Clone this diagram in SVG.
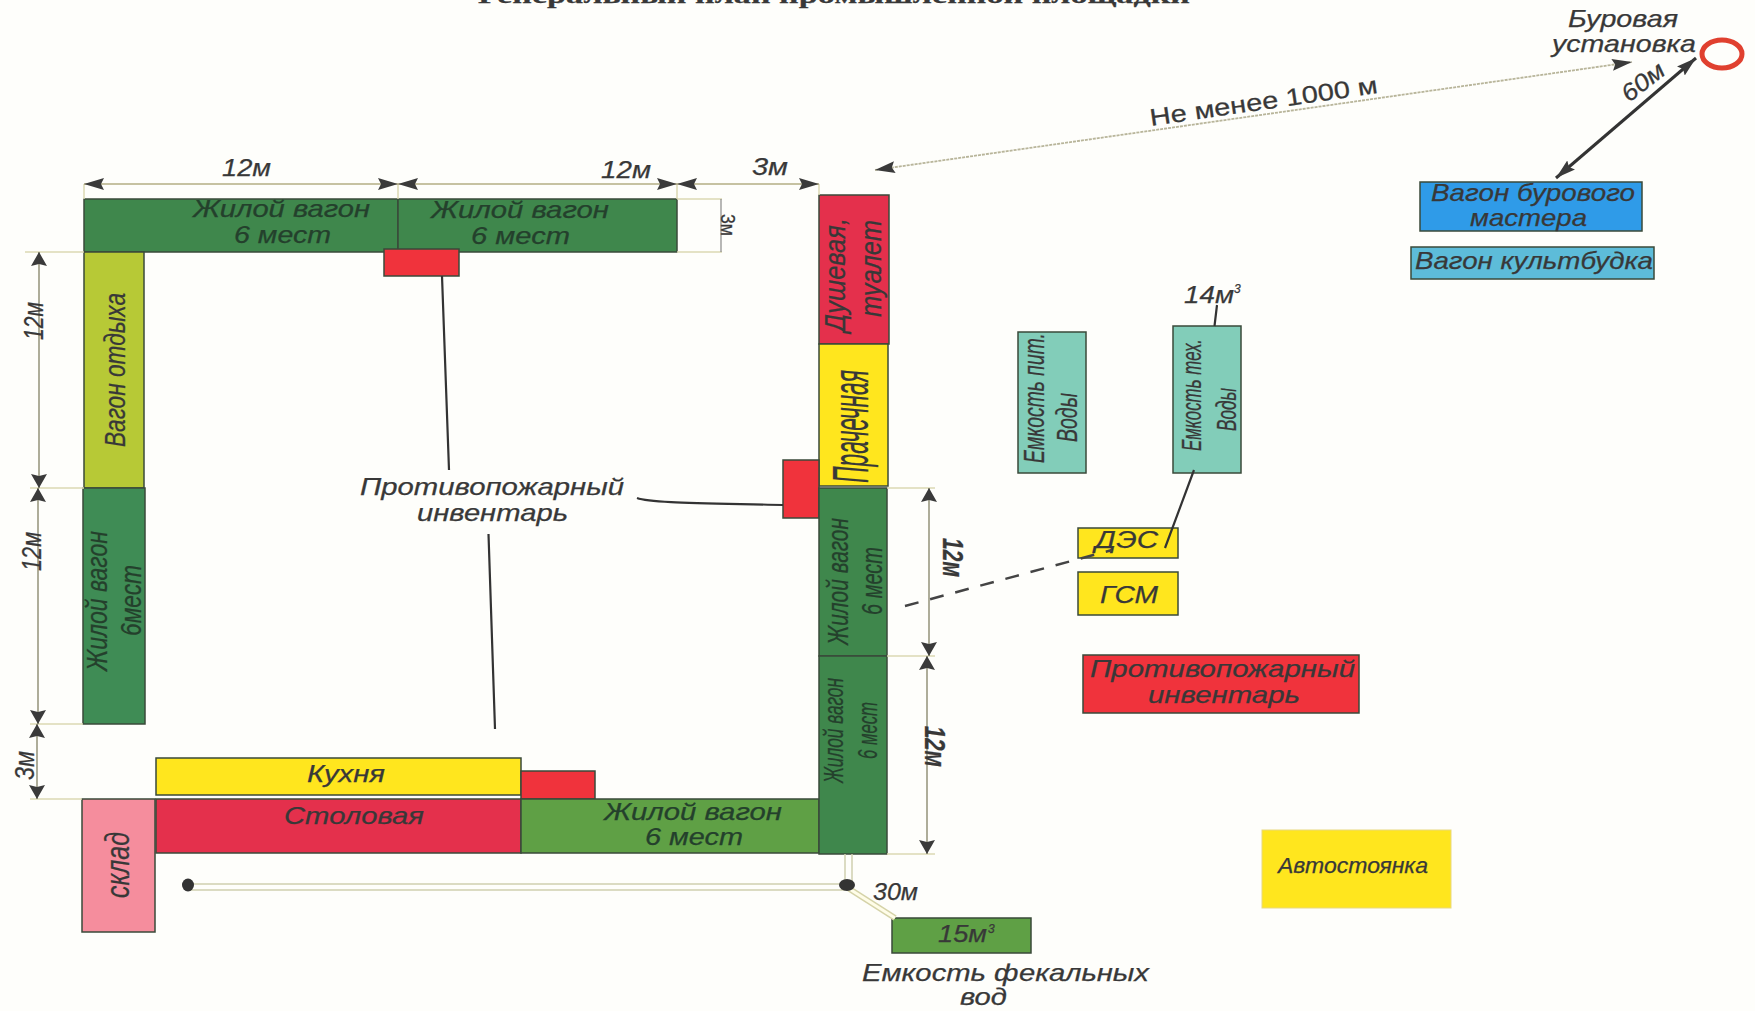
<svg xmlns="http://www.w3.org/2000/svg" width="1755" height="1011" viewBox="0 0 1755 1011">
<style>
text{font-family:"Liberation Sans",Arial,sans-serif;font-style:italic;fill:#383838;stroke:#383838;stroke-width:.25;font-size:24px}
.n rect{stroke:#3a4a3a;stroke-width:1.5}
.dg{fill:#3f874c}.lg{fill:#5fa045}.mg{fill:#3f8c55}.yg{fill:#b7c936}.r{fill:#f0333c}.cr{fill:#e4304c}.y{fill:#ffe61e}.p{fill:#f58d9d}.t{fill:#82cdb9}.b{fill:#2f9be8}.c{fill:#5dbcd9}
text.dk{fill:#24402c;stroke:#24402c}
.dim{stroke:#b3ae84;stroke-width:1.6;fill:none;marker-start:url(#a);marker-end:url(#a)}
.dv{stroke:#8c8a70;stroke-width:1.4;fill:none;marker-start:url(#v);marker-end:url(#v)}
.ext{stroke:#dcd9b4;stroke-width:1.5;fill:none}
.lead{stroke:#333;stroke-width:2.200;fill:none}
.pipe{stroke:#cfcfb0;stroke-width:1.5;fill:none}
.rv{font-size:29px}
</style>
<defs>
<marker id="a" viewBox="0 0 20 12" refX="20" refY="6" markerWidth="20" markerHeight="12" markerUnits="userSpaceOnUse" orient="auto-start-reverse"><path d="M0 0L20 6L0 12L3 6Z" fill="#3a3a3a"/></marker>
<marker id="v" viewBox="0 0 14 16" refX="14" refY="8" markerWidth="14" markerHeight="16" markerUnits="userSpaceOnUse" orient="auto-start-reverse"><path d="M0 0L14 8L0 16L2 8Z" fill="#3a3a3a"/></marker>
</defs>
<rect width="1755" height="1011" fill="#fefefb"/>
<text x="478" y="3" textLength="712" lengthAdjust="spacingAndGlyphs" style="font-family:'Liberation Serif',serif;font-style:normal;font-weight:bold;font-size:24px">Генеральный план промышленной площадки</text>

<g id="wagon-top-1" class="n"><rect class="dg" x="84" y="199" width="314" height="53"/><text class="dk" x="193" y="217" textLength="177" lengthAdjust="spacingAndGlyphs">Жилой вагон</text><text class="dk" x="234" y="243" textLength="97" lengthAdjust="spacingAndGlyphs">6 мест</text></g>
<g id="wagon-top-2" class="n"><rect class="dg" x="398" y="199" width="279" height="53"/><text class="dk" x="431" y="218" textLength="178" lengthAdjust="spacingAndGlyphs">Жилой вагон</text><text class="dk" x="471" y="244" textLength="99" lengthAdjust="spacingAndGlyphs">6 мест</text></g>
<g id="fire-top" class="n"><rect class="r" x="384" y="249" width="75" height="27"/></g>
<g id="rest-wagon" class="n"><rect class="yg" x="84" y="252" width="60" height="236"/><text class="rv" transform="translate(124.500 447) rotate(-90)" textLength="154" lengthAdjust="spacingAndGlyphs">Вагон отдыха</text></g>
<g id="wagon-left" class="n"><rect class="mg" x="83" y="488" width="62" height="236"/><text class="dk rv" transform="translate(107 671) rotate(-90)" textLength="140" lengthAdjust="spacingAndGlyphs">Жилой вагон</text><text class="dk rv" transform="translate(141 636) rotate(-90)" textLength="71" lengthAdjust="spacingAndGlyphs">6мест</text></g>
<g id="kitchen" class="n"><rect class="y" x="156" y="758" width="365" height="37"/><text x="307" y="782" textLength="78" lengthAdjust="spacingAndGlyphs">Кухня</text></g>
<g id="fire-bottom" class="n"><rect class="r" x="521" y="771" width="74" height="28"/></g>
<g id="dining" class="n"><rect class="cr" x="156" y="799" width="365" height="54"/><text x="284" y="824" textLength="140" lengthAdjust="spacingAndGlyphs">Столовая</text></g>
<g id="wagon-bottom" class="n"><rect class="lg" x="521" y="799" width="298" height="54"/><text class="dk" x="604" y="820" textLength="178" lengthAdjust="spacingAndGlyphs">Жилой вагон</text><text class="dk" x="645" y="845" textLength="98" lengthAdjust="spacingAndGlyphs">6 мест</text></g>
<g id="storage" class="n"><rect class="p" x="82" y="799" width="73" height="133"/><text transform="translate(129 898) rotate(-90)" textLength="66" lengthAdjust="spacingAndGlyphs" style="font-size:34px">склад</text></g>
<g id="shower" class="n"><rect class="cr" x="819" y="195" width="70" height="149"/><text class="rv" transform="translate(845 332) rotate(-90)" textLength="114" lengthAdjust="spacingAndGlyphs">Душевая,</text><text class="rv" transform="translate(881 317) rotate(-90)" textLength="97" lengthAdjust="spacingAndGlyphs">туалет</text></g>
<g id="laundry" class="n"><rect class="y" x="819" y="344" width="69" height="142"/><text transform="translate(868 483) rotate(-90)" textLength="113" lengthAdjust="spacingAndGlyphs" style="font-size:50px">Прачечная</text></g>
<g id="fire-right" class="n"><rect class="r" x="783" y="460" width="36" height="58"/></g>
<g id="wagon-right-1" class="n"><rect class="dg" x="819" y="488" width="68" height="168"/><text class="dk rv" transform="translate(848 645) rotate(-90)" textLength="127" lengthAdjust="spacingAndGlyphs">Жилой вагон</text><text class="dk rv" transform="translate(882 615) rotate(-90)" textLength="68" lengthAdjust="spacingAndGlyphs">6 мест</text></g>
<g id="wagon-right-2" class="n"><rect class="dg" x="819" y="656" width="68" height="198"/><text class="dk rv" transform="translate(843 783) rotate(-90)" textLength="105" lengthAdjust="spacingAndGlyphs" style="font-size:28px">Жилой вагон</text><text class="dk rv" transform="translate(877 759) rotate(-90)" textLength="57" lengthAdjust="spacingAndGlyphs" style="font-size:28px">6 мест</text></g>
<g id="tank-drink" class="n"><rect class="t" x="1018" y="332" width="68" height="141"/><text class="rv" transform="translate(1044 463) rotate(-90)" textLength="130" lengthAdjust="spacingAndGlyphs" style="font-size:30px">Емкость пит.</text><text class="rv" transform="translate(1077 442) rotate(-90)" textLength="49" lengthAdjust="spacingAndGlyphs" style="font-size:30px">Воды</text></g>
<g id="tank-tech" class="n"><rect class="t" x="1173" y="326" width="68" height="147"/><text class="rv" transform="translate(1201 451) rotate(-90)" textLength="112" lengthAdjust="spacingAndGlyphs" style="font-size:28px">Емкость тех.</text><text class="rv" transform="translate(1236 431) rotate(-90)" textLength="43" lengthAdjust="spacingAndGlyphs" style="font-size:28px">Воды</text></g>
<g id="master-wagon" class="n"><rect class="b" x="1420" y="182" width="222" height="49"/><text x="1431" y="201" textLength="204" lengthAdjust="spacingAndGlyphs">Вагон бурового</text><text x="1470" y="226" textLength="117" lengthAdjust="spacingAndGlyphs">мастера</text></g>
<g id="culture-wagon" class="n"><rect class="c" x="1411" y="247" width="243" height="32"/><text x="1415" y="269" textLength="238" lengthAdjust="spacingAndGlyphs">Вагон культбудка</text></g>
<g id="des" class="n"><rect class="y" x="1078" y="528" width="100" height="30"/><text x="1095" y="548" textLength="63" lengthAdjust="spacingAndGlyphs">ДЭС</text></g>
<g id="gsm" class="n"><rect class="y" x="1078" y="572" width="100" height="43"/><text x="1100" y="603" textLength="58" lengthAdjust="spacingAndGlyphs">ГСМ</text></g>
<g id="fire-store" class="n"><rect class="r" x="1083" y="655" width="276" height="58"/><text x="1090" y="677" textLength="265" lengthAdjust="spacingAndGlyphs">Противопожарный</text><text x="1148" y="703" textLength="152" lengthAdjust="spacingAndGlyphs">инвентарь</text></g>
<g id="parking"><rect class="y" x="1262" y="830" width="189" height="78" stroke="#e8d880" stroke-width="1"/><text x="1278" y="873" textLength="150" lengthAdjust="spacingAndGlyphs" style="font-size:22px">Автостоянка</text></g>
<g id="tank-waste" class="n"><rect class="lg" x="892" y="918" width="139" height="35"/><text x="938" y="942" textLength="49" lengthAdjust="spacingAndGlyphs">15м</text><text x="988" y="933" style="font-size:12px">3</text></g>
<g id="rig"><ellipse cx="1722" cy="54" rx="20" ry="14" fill="none" stroke="#e0402f" stroke-width="5"/><text x="1568" y="27" textLength="110" lengthAdjust="spacingAndGlyphs">Буровая</text><text x="1552" y="52" textLength="144" lengthAdjust="spacingAndGlyphs">установка</text></g>

<g id="connectors">
<path class="ext" d="M84 184V199M398 184V199M677 184V199M819 184V195M677 199H722M677 252H722M25 252H84M30 488H84M30 724H83M30 799H82M887 488H935M887 656H935M887 854H935"/>
<path class="dim" d="M84 184H398"/><path class="dim" d="M398 184H677"/><path class="dim" d="M677 184H819"/>
<path d="M721 199V252" stroke="#888" stroke-width="1.2"/>
<path class="dv" d="M39 252V488"/><path class="dv" d="M38 488V724"/><path class="dv" d="M37 724V799"/>
<path class="dv" d="M929 488V656"/><path class="dv" d="M927 656V854"/>
<path d="M875 170L1632 62" stroke="#b8b59a" stroke-width="1.800" stroke-dasharray="3 1" fill="none" marker-start="url(#a)" marker-end="url(#a)"/>
<path d="M1556 178L1696 58" stroke="#333" stroke-width="3" fill="none" marker-start="url(#a)" marker-end="url(#a)"/>
<path class="lead" d="M442 276L449 470M637 498C650 503 700 503 783 505M488.500 534L495 729M1194 470L1165 548M1217 305L1214.500 326"/>
<path d="M905 606L1112 550" stroke="#444" stroke-width="2.500" stroke-dasharray="14 12" fill="none"/>
<path class="pipe" d="M188 884H847M188 890H847M845 854V884M852 854V884"/>
<path d="M848 888L895 918" stroke="#d5d3a8" stroke-width="6" fill="none"/>
<path d="M848 888L895 918" stroke="#fffde8" stroke-width="3" fill="none"/>
<ellipse cx="188" cy="885" rx="6" ry="6.500" fill="#333"/><ellipse cx="847" cy="885" rx="8" ry="6" fill="#333"/>
</g>

<g id="labels">
<text x="222" y="176" textLength="49" lengthAdjust="spacingAndGlyphs">12м</text>
<text x="601" y="178" textLength="50" lengthAdjust="spacingAndGlyphs">12м</text>
<text x="752" y="175" textLength="36" lengthAdjust="spacingAndGlyphs">3м</text>
<text transform="translate(721 214) rotate(90)" textLength="22" lengthAdjust="spacingAndGlyphs" style="font-size:20px;font-style:normal">3м</text>
<text class="rv" transform="translate(43 340) rotate(-90)" textLength="38" lengthAdjust="spacingAndGlyphs" style="font-size:27px">12м</text>
<text class="rv" transform="translate(41 571) rotate(-90)" textLength="39" lengthAdjust="spacingAndGlyphs" style="font-size:27px">12м</text>
<text class="rv" transform="translate(34 780) rotate(-90)" textLength="29" lengthAdjust="spacingAndGlyphs" style="font-size:27px">3м</text>
<text class="rv" transform="translate(943 538) rotate(90)" textLength="39" lengthAdjust="spacingAndGlyphs" style="font-weight:bold">12м</text>
<text class="rv" transform="translate(925 726) rotate(90)" textLength="41" lengthAdjust="spacingAndGlyphs" style="font-weight:bold">12м</text>
<text x="360" y="495" textLength="264" lengthAdjust="spacingAndGlyphs">Противопожарный</text>
<text x="417" y="521" textLength="151" lengthAdjust="spacingAndGlyphs">инвентарь</text>
<text transform="translate(1151 126) rotate(-8.300)" textLength="230" lengthAdjust="spacingAndGlyphs" style="font-style:normal">Не менее 1000 м</text>
<text transform="translate(1629 103) rotate(-38)" textLength="48" lengthAdjust="spacingAndGlyphs">60м</text>
<text x="1184" y="303" textLength="50" lengthAdjust="spacingAndGlyphs">14м</text><text x="1234" y="293" style="font-size:12px">3</text>
<text x="873" y="900" textLength="45" lengthAdjust="spacingAndGlyphs">30м</text>
<text x="862" y="981" textLength="287" lengthAdjust="spacingAndGlyphs">Емкость фекальных</text>
<text x="960" y="1005" textLength="47" lengthAdjust="spacingAndGlyphs">вод</text>
</g>
</svg>
